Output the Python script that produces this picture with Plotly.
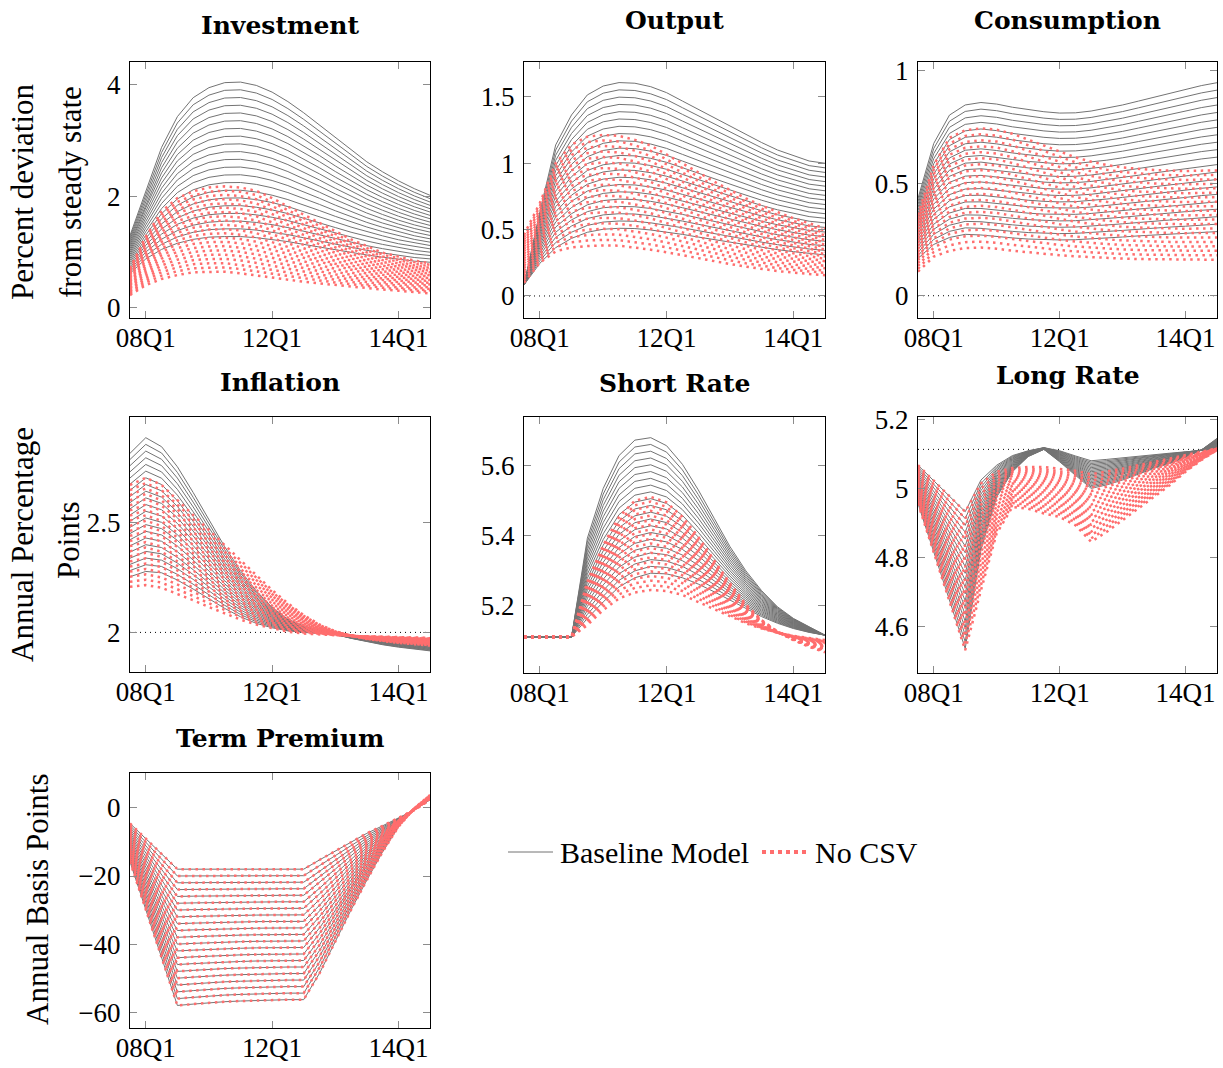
import plotly.graph_objects as go

# ---------------- data ----------------
X = list(range(20))                 # quarter index of each response point
XTICK_POS = [1, 9, 17]
XTICK_TXT = ["08Q1", "12Q1", "14Q1"]
N_LINES = 21                        # lines in each fan

# Investment
INV_GRAY_HI = [1.30, 2.10, 2.88, 3.43, 3.77, 3.95, 4.04, 4.05, 3.99, 3.87, 3.70, 3.50, 3.28, 3.05, 2.83, 2.62, 2.44, 2.28, 2.14, 2.02]
INV_GRAY_LO = [0.62, 0.88, 1.05, 1.16, 1.23, 1.27, 1.28, 1.28, 1.26, 1.23, 1.19, 1.14, 1.09, 1.04, 0.99, 0.95, 0.91, 0.87, 0.84, 0.82]
INV_RED_HI = [0.71, 1.28, 1.73, 1.97, 2.09, 2.16, 2.18, 2.16, 2.10, 1.97, 1.82, 1.67, 1.52, 1.37, 1.23, 1.11, 0.99, 0.92, 0.85, 0.80]
INV_RED_LO = [0.23, 0.41, 0.52, 0.59, 0.64, 0.65, 0.65, 0.62, 0.58, 0.54, 0.50, 0.47, 0.44, 0.41, 0.38, 0.35, 0.33, 0.31, 0.29, 0.26]

# Output
OUT_GRAY_HI = [0.083, 0.635, 1.138, 1.364, 1.515, 1.582, 1.608, 1.603, 1.577, 1.532, 1.469, 1.406, 1.339, 1.276, 1.213, 1.156, 1.100, 1.057, 1.017, 1.000]
OUT_GRAY_LO = [0.083, 0.246, 0.364, 0.434, 0.480, 0.503, 0.510, 0.508, 0.497, 0.482, 0.464, 0.444, 0.424, 0.404, 0.384, 0.366, 0.349, 0.334, 0.319, 0.309]
OUT_RED_HI = [0.46, 0.70, 1.00, 1.14, 1.20, 1.213, 1.206, 1.176, 1.133, 1.068, 1.000, 0.932, 0.862, 0.799, 0.736, 0.681, 0.631, 0.585, 0.548, 0.510]
OUT_RED_LO = [0.10, 0.25, 0.336, 0.366, 0.376, 0.381, 0.379, 0.366, 0.349, 0.329, 0.306, 0.284, 0.261, 0.241, 0.221, 0.203, 0.188, 0.176, 0.166, 0.156]

# Consumption
CON_GRAY_HI = [0.433, 0.677, 0.803, 0.848, 0.859, 0.852, 0.838, 0.827, 0.818, 0.812, 0.813, 0.821, 0.833, 0.848, 0.865, 0.883, 0.900, 0.917, 0.934, 0.947]
CON_GRAY_LO = [0.166, 0.228, 0.259, 0.273, 0.270, 0.262, 0.257, 0.252, 0.249, 0.248, 0.249, 0.252, 0.257, 0.261, 0.266, 0.270, 0.274, 0.277, 0.282, 0.285]
CON_RED_HI = [0.359, 0.581, 0.702, 0.736, 0.744, 0.738, 0.720, 0.694, 0.665, 0.639, 0.615, 0.596, 0.581, 0.570, 0.563, 0.559, 0.556, 0.554, 0.556, 0.557]
CON_RED_LO = [0.107, 0.174, 0.199, 0.212, 0.214, 0.209, 0.200, 0.193, 0.185, 0.180, 0.175, 0.171, 0.168, 0.165, 0.163, 0.162, 0.160, 0.160, 0.160, 0.160]

# Inflation
INF_GRAY_HI = [2.814, 2.885, 2.844, 2.753, 2.636, 2.510, 2.389, 2.280, 2.188, 2.114, 2.060, 2.029, 2.009, 1.991, 1.973, 1.957, 1.944, 1.933, 1.924, 1.916]
INF_GRAY_LO = [2.253, 2.277, 2.271, 2.238, 2.197, 2.151, 2.109, 2.071, 2.041, 2.021, 2.007, 2.000, 1.995, 1.991, 1.986, 1.982, 1.977, 1.974, 1.971, 1.968]
INF_RED_HI = [2.670, 2.703, 2.670, 2.601, 2.533, 2.465, 2.397, 2.329, 2.260, 2.192, 2.132, 2.079, 2.036, 2.005, 1.985, 1.970, 1.960, 1.952, 1.946, 1.940]
INF_RED_LO = [2.207, 2.215, 2.203, 2.176, 2.146, 2.115, 2.085, 2.058, 2.036, 2.018, 2.003, 1.995, 1.990, 1.987, 1.984, 1.982, 1.980, 1.978, 1.977, 1.975]

# Short Rate
SR_GRAY_HI = [5.111, 5.111, 5.111, 5.111, 5.393, 5.535, 5.629, 5.673, 5.680, 5.657, 5.604, 5.531, 5.450, 5.369, 5.300, 5.243, 5.197, 5.164, 5.140, 5.116]
SR_GRAY_LO = [5.111, 5.111, 5.111, 5.111, 5.164, 5.211, 5.254, 5.280, 5.293, 5.291, 5.280, 5.262, 5.240, 5.216, 5.193, 5.169, 5.150, 5.135, 5.124, 5.116]
SR_RED_HI = [5.111, 5.111, 5.111, 5.111, 5.269, 5.373, 5.454, 5.500, 5.511, 5.495, 5.454, 5.397, 5.330, 5.264, 5.204, 5.159, 5.126, 5.102, 5.083, 5.067]
SR_RED_LO = [5.111, 5.111, 5.111, 5.111, 5.145, 5.188, 5.221, 5.238, 5.245, 5.242, 5.231, 5.211, 5.191, 5.169, 5.150, 5.135, 5.123, 5.114, 5.107, 5.102]

# Long Rate
LR_GRAY_HI = [5.067, 5.022, 4.977, 4.932, 5.024, 5.067, 5.095, 5.109, 5.118, 5.109, 5.094, 5.080, 5.084, 5.089, 5.094, 5.098, 5.102, 5.106, 5.110, 5.113]
LR_GRAY_LO = [4.956, 4.816, 4.675, 4.535, 4.821, 4.975, 5.048, 5.092, 5.113, 5.077, 5.038, 5.000, 5.010, 5.024, 5.041, 5.058, 5.072, 5.090, 5.111, 5.145]
LR_RED_HI = [5.067, 5.022, 4.977, 4.932, 5.014, 5.048, 5.059, 5.062, 5.062, 5.057, 5.051, 5.041, 5.048, 5.057, 5.067, 5.077, 5.086, 5.096, 5.106, 5.116]
LR_RED_LO = [4.956, 4.816, 4.675, 4.530, 4.704, 4.869, 4.946, 4.941, 4.927, 4.917, 4.893, 4.845, 4.874, 4.908, 4.941, 4.975, 5.009, 5.048, 5.082, 5.111]

# Term Premium (both models coincide)
TP_HI = [-4.6, -9.1, -13.6, -18.0, -18.0, -18.0, -18.0, -18.0, -18.0, -18.0, -18.0, -18.0, -15.3, -12.7, -10.1, -7.5, -5.3, -3.1, -0.7, 2.3]
TP_LO = [-15.8, -29.9, -43.9, -57.9, -57.5, -57.1, -56.8, -56.6, -56.4, -56.3, -56.2, -56.2, -48.5, -39.2, -29.9, -21.2, -12.9, -5.6, -0.2, 3.7]

STEADY = {"Output": 0.0, "Consumption": 0.0, "Inflation": 2.0, "Long Rate": 5.113}

# ---------------- layout helpers ----------------
W, H = 1223, 1068
GRAY = "rgb(115,115,115)"
RED = "rgb(255,110,110)"
TICK_FONT = dict(family="Liberation Serif", size=27, color="black")
LABEL_FONT = dict(family="Liberation Serif", size=31, color="black")
LEGEND_FONT = dict(family="Liberation Serif", size=30, color="black")
TITLE_FONT = dict(family="DejaVu Serif", size=25, color="black")

panels = [
    dict(name="Investment", g=(INV_GRAY_HI, INV_GRAY_LO), r=(INV_RED_HI, INV_RED_LO),
         yr=[-0.18, 4.41], yt=[0, 2, 4], ytt=["0", "2", "4"], box=(130, 430, 62, 318), ty=25),
    dict(name="Output", g=(OUT_GRAY_HI, OUT_GRAY_LO), r=(OUT_RED_HI, OUT_RED_LO),
         yr=[-0.166, 1.763], yt=[0, 0.5, 1, 1.5], ytt=["0", "0.5", "1", "1.5"], box=(524, 825, 62, 318), ty=21),
    dict(name="Consumption", g=(CON_GRAY_HI, CON_GRAY_LO), r=(CON_RED_HI, CON_RED_LO),
         yr=[-0.099, 1.039], yt=[0, 0.5, 1], ytt=["0", "0.5", "1"], box=(918, 1217, 62, 318), ty=21),
    dict(name="Inflation", g=(INF_GRAY_HI, INF_GRAY_LO), r=(INF_RED_HI, INF_RED_LO),
         yr=[1.82, 2.979], yt=[2, 2.5], ytt=["2", "2.5"], box=(130, 430, 417, 672), ty=382),
    dict(name="Short Rate", g=(SR_GRAY_HI, SR_GRAY_LO), r=(SR_RED_HI, SR_RED_LO),
         yr=[5.008, 5.739], yt=[5.2, 5.4, 5.6], ytt=["5.2", "5.4", "5.6"], box=(524, 825, 417, 673), ty=383),
    dict(name="Long Rate", g=(LR_GRAY_HI, LR_GRAY_LO), r=(LR_RED_HI, LR_RED_LO),
         yr=[4.464, 5.207], yt=[4.6, 4.8, 5.0, 5.2], ytt=["4.6", "4.8", "5", "5.2"], box=(918, 1217, 417, 673), ty=376),
    dict(name="Term Premium", g=(TP_HI, TP_LO), r=(TP_HI, TP_LO),
         yr=[-64.5, 10.16], yt=[-60, -40, -20, 0], ytt=["\u221260", "\u221240", "\u221220", "0"], box=(130, 430, 773, 1028), ty=738),
]


def fan(hi, lo, n):
    return [[h + (l - h) * k / (n - 1) for h, l in zip(hi, lo)] for k in range(n)]


fig = go.Figure()
layout = dict(width=W, height=H, margin=dict(l=0, r=0, t=0, b=0, autoexpand=False),
              paper_bgcolor="white", plot_bgcolor="white", showlegend=False,
              annotations=[], shapes=[])

for i, p in enumerate(panels, start=1):
    xa = "x" if i == 1 else f"x{i}"
    ya = "y" if i == 1 else f"y{i}"
    x0, x1, y0, y1 = p["box"]
    axis_common = dict(showgrid=False, zeroline=False, showline=True, linecolor="black",
                       linewidth=1, mirror="ticks", ticks="inside", ticklen=7,
                       tickcolor="rgb(140,140,140)", tickwidth=1, tickfont=TICK_FONT,
                       automargin=False)
    layout["xaxis" if i == 1 else f"xaxis{i}"] = dict(
        domain=[x0 / W, x1 / W], anchor=ya, range=[0, 19],
        tickmode="array", tickvals=XTICK_POS, ticktext=XTICK_TXT,
        ticklabelstandoff=-4, **axis_common)
    layout["yaxis" if i == 1 else f"yaxis{i}"] = dict(
        domain=[1 - y1 / H, 1 - y0 / H], anchor=xa, range=p["yr"],
        tickmode="array", tickvals=p["yt"], ticktext=p["ytt"],
        ticklabelstandoff=3, **axis_common)

    if p["name"] in STEADY:
        ss = STEADY[p["name"]]
        fig.add_trace(go.Scatter(x=[X[0], X[-1]], y=[ss, ss], mode="lines",
                                 line=dict(color="black", width=1, dash="1px,4px"),
                                 xaxis=xa, yaxis=ya, hoverinfo="skip"))
    for yv in fan(p["g"][0], p["g"][1], N_LINES):
        fig.add_trace(go.Scatter(x=X, y=yv, mode="lines", line=dict(color=GRAY, width=1),
                                 xaxis=xa, yaxis=ya, hoverinfo="skip"))
    for yv in fan(p["r"][0], p["r"][1], N_LINES):
        fig.add_trace(go.Scatter(x=X, y=yv, mode="lines",
                                 line=dict(color=RED, width=2.5, dash="2.5px,4.5px"),
                                 xaxis=xa, yaxis=ya, hoverinfo="skip"))

    layout["annotations"].append(dict(
        text=f"<b>{p['name']}</b>", xref="paper", yref="paper",
        x=(x0 + x1) / 2 / W, y=1 - p["ty"] / H, xanchor="center", yanchor="middle",
        showarrow=False, font=TITLE_FONT))

# y-axis titles
for txt, xc, yc in [("Percent deviation", 22, 192), ("from steady state", 70, 192),
                    ("Annual Percentage", 22, 545), ("Points", 68, 540),
                    ("Annual Basis Points", 37, 900)]:
    layout["annotations"].append(dict(
        text=txt, xref="paper", yref="paper", x=xc / W, y=1 - yc / H,
        xanchor="center", yanchor="middle", textangle=-90, showarrow=False, font=LABEL_FONT))

# legend (drawn manually)
LEG_Y = 1 - 852 / H
layout["shapes"] += [
    dict(type="line", xref="paper", yref="paper", x0=508 / W, x1=553 / W, y0=LEG_Y, y1=LEG_Y,
         line=dict(color=GRAY, width=1)),
    dict(type="line", xref="paper", yref="paper", x0=762 / W, x1=808 / W, y0=LEG_Y, y1=LEG_Y,
         line=dict(color=RED, width=4, dash="4px,4px")),
]
for txt, xl in [("Baseline Model", 558), ("No CSV", 813)]:
    layout["annotations"].append(dict(
        text=txt, xref="paper", yref="paper", x=xl / W, y=LEG_Y, xanchor="left",
        yanchor="middle", showarrow=False, font=LEGEND_FONT))

fig.update_layout(**layout)
fig.write_html("out.html")
